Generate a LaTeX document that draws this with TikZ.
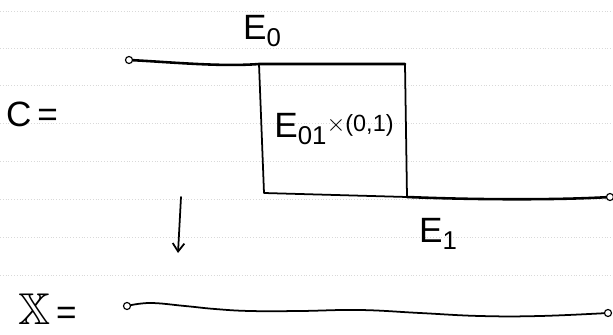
\documentclass[tikz,border=0pt]{standalone}
\usepackage{amssymb}
\usepackage{fontspec}
\setmainfont{Liberation Sans}
\usetikzlibrary{arrows.meta}
\newcommand{\lowidx}[1]{\raisebox{-0.35ex}{\fontsize{22}{22}\selectfont #1}}
\tikzset{
  ruled/.style={gray!30, dotted, line width=0.4pt},
  ink/.style={black, line width=1.5pt, line cap=round, line join=round},
  thickink/.style={black, line width=2.2pt, line cap=round, line join=round},
  endpt/.style={circle, draw=black, line width=1pt, fill=white, inner sep=0pt, minimum size=6pt},
  lbl/.style={inner sep=0pt, font=\fontsize{30}{30}\selectfont},
}
\begin{document}
\begin{tikzpicture}[x=0.03cm, y=-0.03cm]
\useasboundingbox (0,0) rectangle (613,335);
% notebook ruling
\foreach \yy in {11,48,85,123,161,199,237,275} {
  \draw[ruled] (0,\yy) -- (613,\yy);
}
% labels
\node[lbl] (E0) at (262,31) {E\lowidx{0}};
\node[lbl, anchor=west] (C) at (6,114) {C\,=};
\node[lbl] (E01) at (334,129) {E\lowidx{01}{\fontsize{20}{20}\selectfont\raisebox{0.5ex}{$\times$(0,1)}}};
\node[lbl] (E1) at (438,234) {E\lowidx{1}};
\node[lbl, anchor=west] (X) at (18,309) {{\fontsize{38}{38}\selectfont$\mathbb{X}$}\,=};
% coordinates
\coordinate (a0) at (129,60);
\coordinate (tl) at (259,64);
\coordinate (tr) at (405,64);
\coordinate (br) at (407,197);
\coordinate (bl) at (264,193);
\coordinate (b1) at (610,197);
\coordinate (x0) at (127,306);
\coordinate (x1) at (608,313);
\coordinate (arS) at (181,197);
\coordinate (arE) at (178,253);
% top edge E0
\draw[thickink] (a0) .. controls (170,62) and (220,67) .. (tl) -- (tr);
% box E01 x (0,1)
\draw[ink] (tl) -- (bl) -- (br) -- (tr);
% bottom edge E1
\draw[thickink] (br) .. controls (480,200) and (560,200) .. (b1);
% endpoints
\node[endpt] (p0) at (a0) {};
\node[endpt] (p1) at (b1) {};
% projection arrow
\draw[ink, -{Straight Barb[length=7pt, width=10pt]}] (arS) -- (arE);
% X
\draw[ink] plot[smooth, tension=0.7] coordinates {(x0) (150,303) (185,306) (215,309) (250,311) (300,311) (360,310) (420,313) (480,316) (540,316) (x1)};
\node[endpt] (q0) at (x0) {};
\node[endpt] (q1) at (x1) {};
\end{tikzpicture}
\end{document}
